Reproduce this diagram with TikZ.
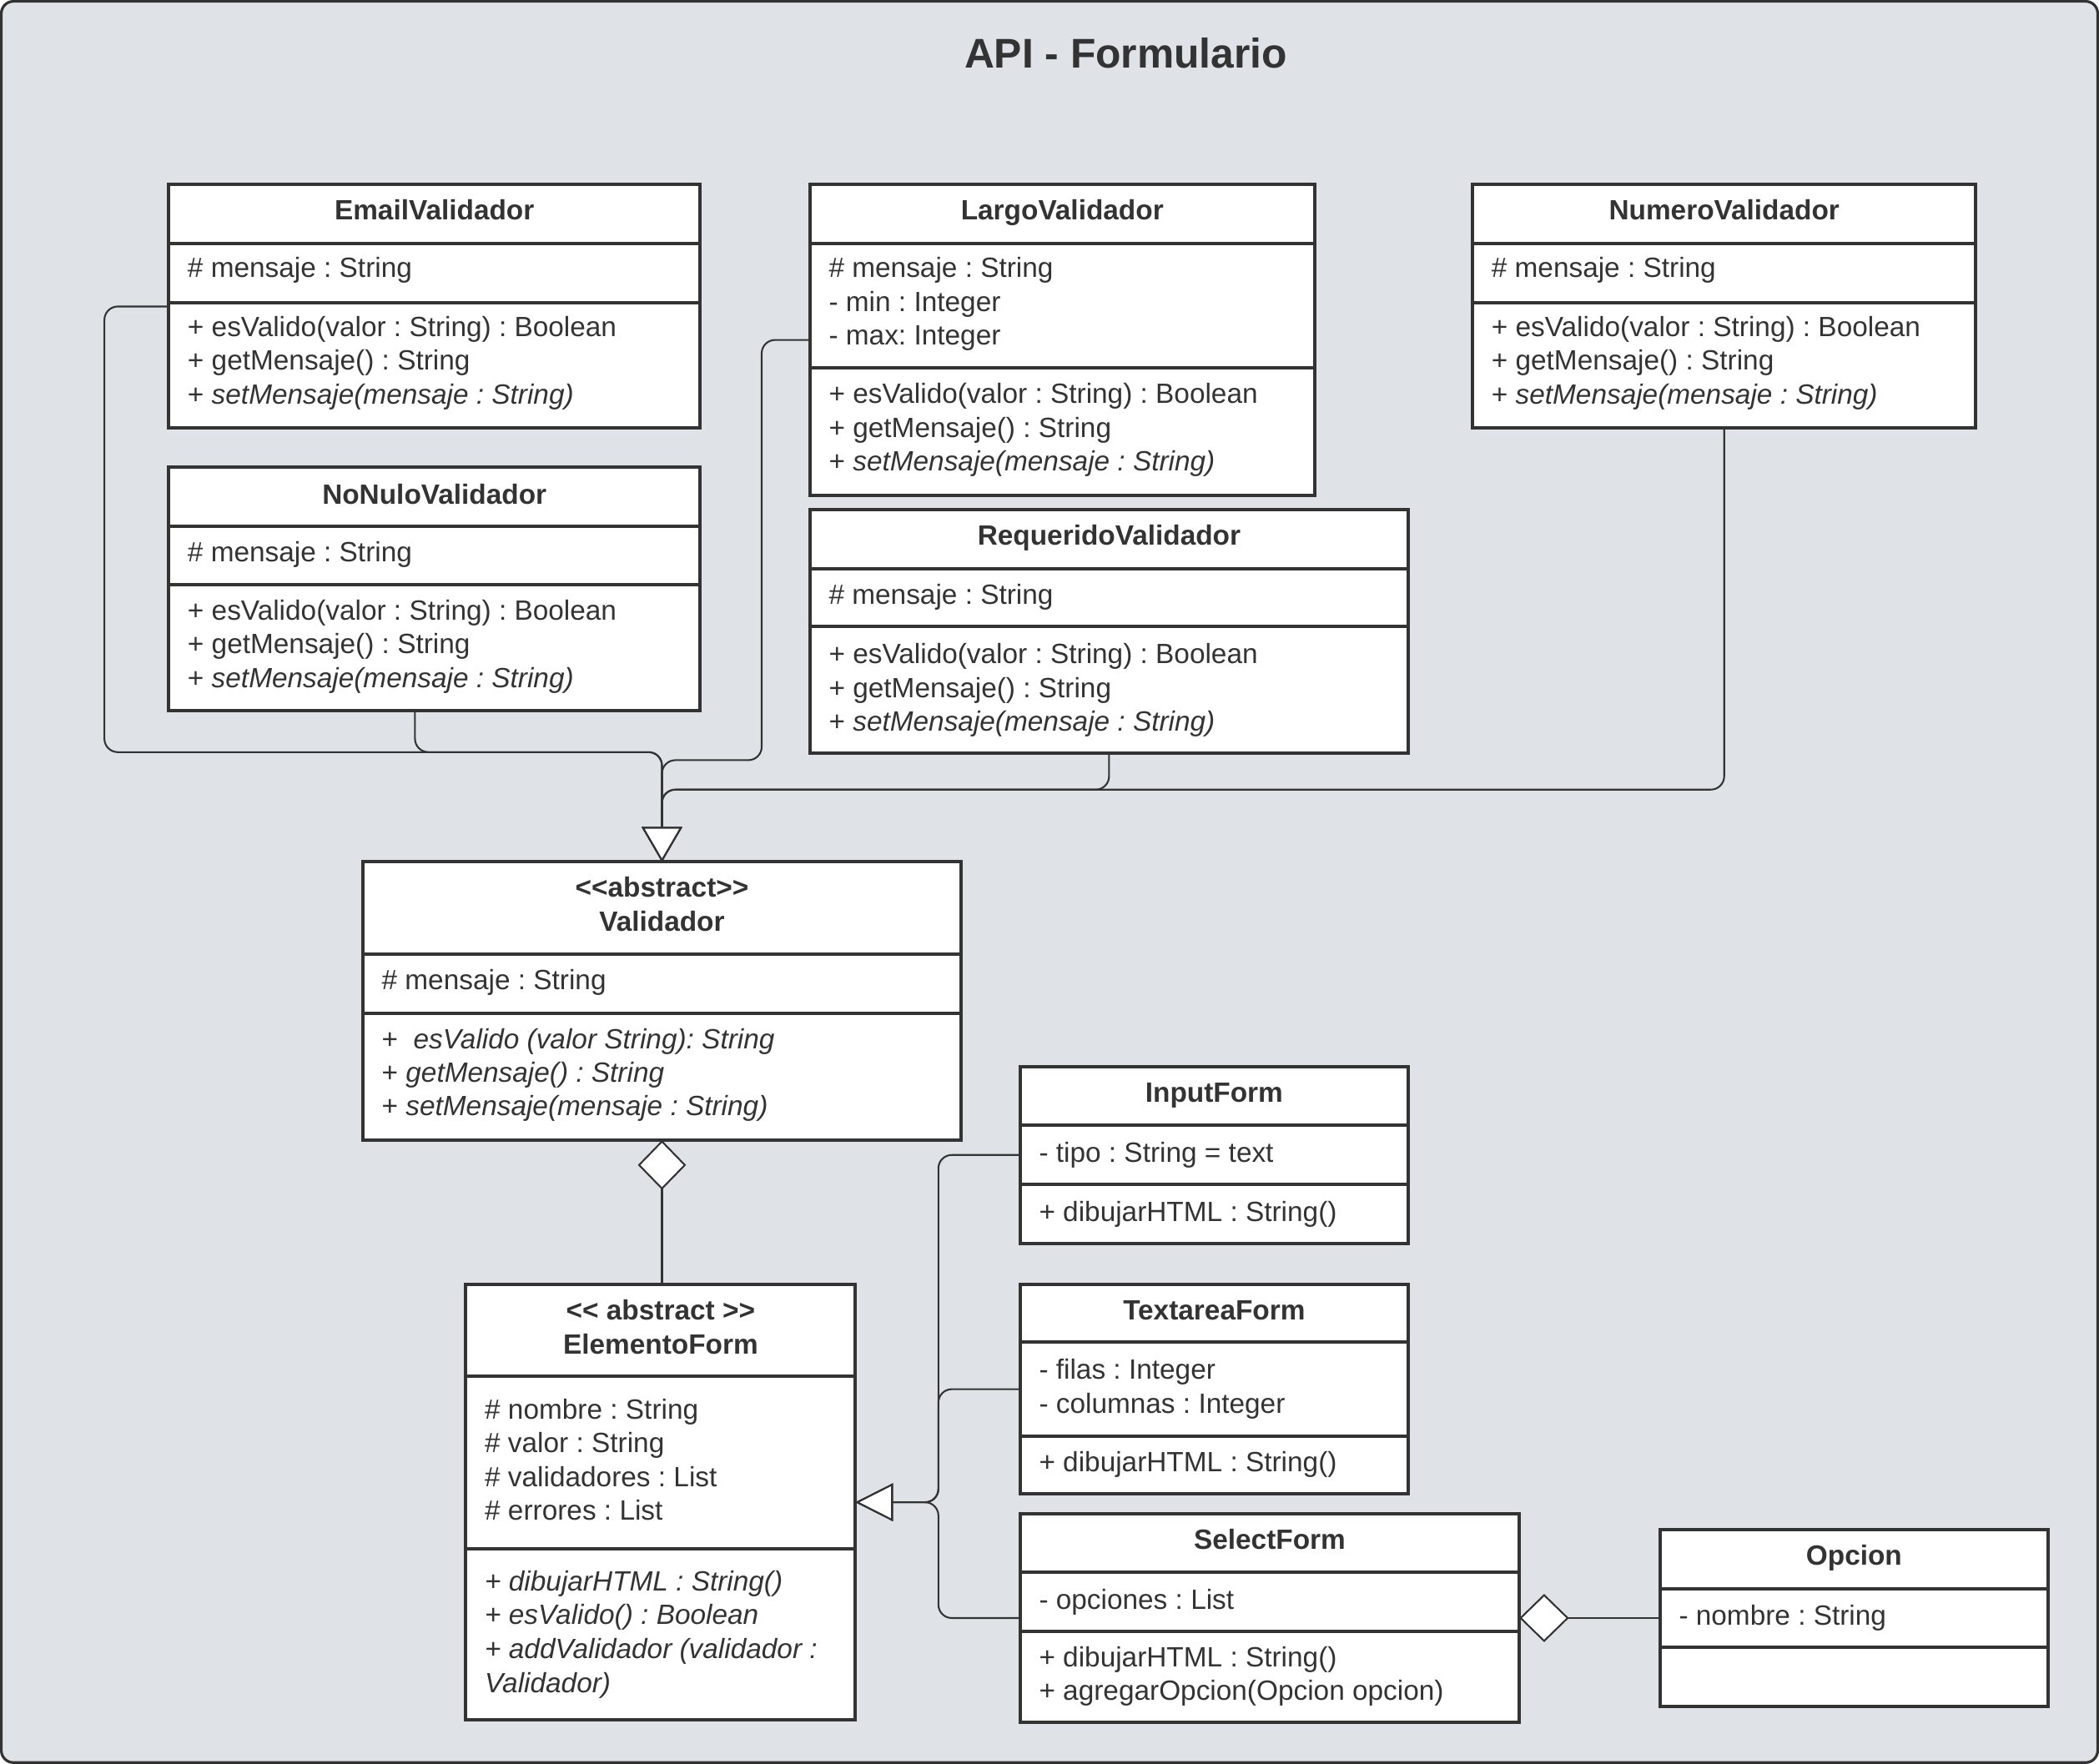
\documentclass[tikz,border=0pt]{standalone}
\usepackage{fontspec}
\setmainfont{Liberation Sans}
\usetikzlibrary{arrows.meta}
\definecolor{ink}{HTML}{333333}
\definecolor{bgc}{HTML}{DFE2E7}
\begin{document}
\frenchspacing
\begin{tikzpicture}[x=1pt,y=-1pt,
 cbox/.style={draw=ink, line width=2.5pt, fill=white, anchor=north west, inner sep=0pt, outer sep=0pt},
 divl/.style={draw=ink, line width=2.5pt},
 tx/.style={anchor=base west, inner sep=0pt, text=ink, font=\fontsize{20.8}{25}\selectfont\frenchspacing},
 hd/.style={anchor=base, inner sep=0pt, text=ink, font=\fontsize{20.8}{25}\selectfont\bfseries},
 conn/.style={draw=ink, line width=1.3pt, rounded corners=10pt},
 gen/.style={-{Triangle[length=26pt,width=30pt,fill=white]}},
 genl/.style={-{Triangle[length=28pt,width=28pt,fill=white]}},
 agg/.style={-{Diamond[length=37pt,width=36pt,fill=white]}}
]
\useasboundingbox (0,0) rectangle (1568,1318);
\fill[bgc, draw=ink, line width=2pt, rounded corners=9pt] (1,1) rectangle (1567,1317);
\node[anchor=base, inner sep=0pt, text=ink, font=\fontsize{31}{36}\selectfont\bfseries] (title) at (841,51) {API - Formulario};

% EmailValidador
\node[cbox, minimum width=397pt, minimum height=182pt] (email) at (126,138) {};
\draw[divl] (126,182) -- (523,182) (126,226) -- (523,226);
\node[hd] (email-h) at (324.5,164.5) {EmailValidador};
\node[tx] (email-a) at (140,207.5) {\# mensaje : String};
\node[tx] (email-m1) at (140,251.5) {+ esValido(valor : String) : Boolean};
\node[tx] (email-m2) at (140,276.5) {+ getMensaje() : String};
\node[tx] (email-m3) at (140,302) {+ \textit{setMensaje(mensaje : String)}};

% LargoValidador
\node[cbox, minimum width=377pt, minimum height=232pt] (largo) at (605,138) {};
\draw[divl] (605,182) -- (982,182) (605,275) -- (982,275);
\node[hd] (largo-h) at (793.5,164.5) {LargoValidador};
\node[tx] (largo-a1) at (619,207.5) {\# mensaje : String};
\node[tx] (largo-a2) at (619,233) {- min : Integer};
\node[tx] (largo-a3) at (619,258) {- max: Integer};
\node[tx] (largo-m1) at (619,301.5) {+ esValido(valor : String) : Boolean};
\node[tx] (largo-m2) at (619,327) {+ getMensaje() : String};
\node[tx] (largo-m3) at (619,352) {+ \textit{setMensaje(mensaje : String)}};

% NumeroValidador
\node[cbox, minimum width=376pt, minimum height=182pt] (num) at (1100,138) {};
\draw[divl] (1100,182) -- (1476,182) (1100,226) -- (1476,226);
\node[hd] (num-h) at (1288,164.5) {NumeroValidador};
\node[tx] (num-a) at (1114,207.5) {\# mensaje : String};
\node[tx] (num-m1) at (1114,251.5) {+ esValido(valor : String) : Boolean};
\node[tx] (num-m2) at (1114,276.5) {+ getMensaje() : String};
\node[tx] (num-m3) at (1114,302) {+ \textit{setMensaje(mensaje : String)}};

% NoNuloValidador
\node[cbox, minimum width=397pt, minimum height=182pt] (nonulo) at (126,349) {};
\draw[divl] (126,393) -- (523,393) (126,437) -- (523,437);
\node[hd] (nonulo-h) at (324.5,376.5) {NoNuloValidador};
\node[tx] (nonulo-a) at (140,419.5) {\# mensaje : String};
\node[tx] (nonulo-m1) at (140,463.5) {+ esValido(valor : String) : Boolean};
\node[tx] (nonulo-m2) at (140,488.5) {+ getMensaje() : String};
\node[tx] (nonulo-m3) at (140,514) {+ \textit{setMensaje(mensaje : String)}};

% RequeridoValidador
\node[cbox, minimum width=447pt, minimum height=182pt] (req) at (605,381) {};
\draw[divl] (605,425) -- (1052,425) (605,468) -- (1052,468);
\node[hd] (req-h) at (828.5,407.5) {RequeridoValidador};
\node[tx] (req-a) at (619,451.5) {\# mensaje : String};
\node[tx] (req-m1) at (619,496) {+ esValido(valor : String) : Boolean};
\node[tx] (req-m2) at (619,521) {+ getMensaje() : String};
\node[tx] (req-m3) at (619,546.5) {+ \textit{setMensaje(mensaje : String)}};

% Validador
\node[cbox, minimum width=447pt, minimum height=208pt] (val) at (271,644) {};
\draw[divl] (271,713) -- (718,713) (271,757) -- (718,757);
\node[hd] (val-h1) at (494.5,670.5) {<{}<abstract>{}>};
\node[hd] (val-h2) at (494.5,695.5) {Validador};
\node[tx] (val-a) at (285,739.5) {\# mensaje : String};
\node[tx] (val-m1) at (285,783.5) {+\ \ \textit{esValido (valor String): String}};
\node[tx] (val-m2) at (285,808.5) {+ \textit{getMensaje() : String}};
\node[tx] (val-m3) at (285,833.5) {+ \textit{setMensaje(mensaje : String)}};

% ElementoForm
\node[cbox, minimum width=291pt, minimum height=325pt] (elem) at (348,960) {};
\draw[divl] (348,1028) -- (639,1028) (348,1157) -- (639,1157);
\node[hd] (elem-h1) at (493.5,986.5) {<{}< abstract >{}>};
\node[hd] (elem-h2) at (493.5,1011.5) {ElementoForm};
\node[tx] (elem-a1) at (362,1060.5) {\# nombre : String};
\node[tx] (elem-a2) at (362,1085.5) {\# valor : String};
\node[tx] (elem-a3) at (362,1111) {\# validadores : List};
\node[tx] (elem-a4) at (362,1136) {\# errores : List};
\node[tx] (elem-m1) at (362,1188.5) {\textit{+ dibujarHTML : String()}};
\node[tx] (elem-m2) at (362,1213.5) {\textit{+ esValido() : Boolean}};
\node[tx] (elem-m3) at (362,1239) {\textit{+ addValidador (validador :}};
\node[tx] (elem-m4) at (362,1264.5) {\textit{Validador)}};

% InputForm
\node[cbox, minimum width=290pt, minimum height=132pt] (input) at (762,797) {};
\draw[divl] (762,841) -- (1052,841) (762,885) -- (1052,885);
\node[hd] (input-h) at (907,823.5) {InputForm};
\node[tx] (input-a) at (776,868.5) {- tipo : String = text};
\node[tx] (input-m) at (776,912.5) {+ dibujarHTML : String()};

% TextareaForm
\node[cbox, minimum width=290pt, minimum height=156pt] (textarea) at (762,960) {};
\draw[divl] (762,1003) -- (1052,1003) (762,1073) -- (1052,1073);
\node[hd] (textarea-h) at (907,986.5) {TextareaForm};
\node[tx] (textarea-a1) at (776,1030.5) {- filas : Integer};
\node[tx] (textarea-a2) at (776,1056) {- columnas : Integer};
\node[tx] (textarea-m) at (776,1099.5) {+ dibujarHTML : String()};

% SelectForm
\node[cbox, minimum width=373pt, minimum height=156pt] (select) at (762,1131) {};
\draw[divl] (762,1175) -- (1135,1175) (762,1219) -- (1135,1219);
\node[hd] (select-h) at (948.5,1157.5) {SelectForm};
\node[tx] (select-a) at (776,1202.5) {- opciones : List};
\node[tx] (select-m1) at (776,1245.5) {+ dibujarHTML : String()};
\node[tx] (select-m2) at (776,1270.5) {+ agregarOpcion(Opcion opcion)};

% Opcion
\node[cbox, minimum width=290pt, minimum height=132pt] (opcion) at (1240,1143) {};
\draw[divl] (1240,1187) -- (1530,1187) (1240,1231) -- (1530,1231);
\node[hd] (opcion-h) at (1385,1169.5) {Opcion};
\node[tx] (opcion-a) at (1254,1214.5) {- nombre : String};

% connectors: generalization to Validador
\draw[conn, gen] (email.west) -- (78,229) -- (78,562) -- (494.5,562) -- (val.north);
\draw[conn, gen] ([xshift=-14.5pt]nonulo.south) -- (310,562) -- (494.5,562) -- (val.north);
\draw[conn, gen] (largo.west) -- (569,254) -- (569,568) -- (494.5,568) -- (val.north);
\draw[conn, gen] (req.south) -- (828.5,590) -- (494.5,590) -- (val.north);
\draw[conn, gen] (num.south) -- (1288,590) -- (494.5,590) -- (val.north);

% aggregation Validador - ElementoForm
\draw[conn, agg] ([xshift=1pt]elem.north) -- (val.south);

% generalization to ElementoForm
\draw[conn, genl] (input.west) -- (701,863) -- (701,1122.5) -- (elem.east);
\draw[conn, genl] (textarea.west) -- (701,1038) -- (701,1122.5) -- (elem.east);
\draw[conn, genl] (select.west) -- (701,1209) -- (701,1122.5) -- (elem.east);

% aggregation Opcion - SelectForm
\draw[conn, agg] (opcion.west) -- (select.east);
\end{tikzpicture}
\end{document}
